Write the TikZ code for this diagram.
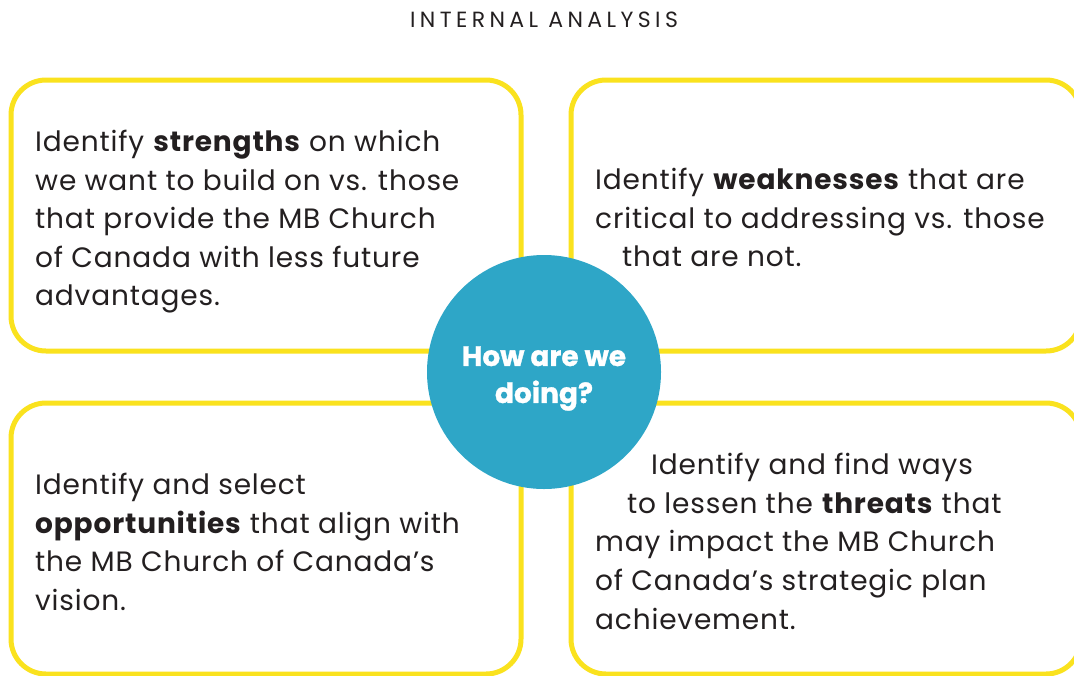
\documentclass[tikz,border=0pt]{standalone}
\usepackage{fontspec}
\setmainfont{Poppins}
\definecolor{boxyellow}{RGB}{250,226,30}
\definecolor{hubteal}{RGB}{46,166,199}
\definecolor{ink}{RGB}{35,31,32}
\tikzset{
  quad/.style={draw=boxyellow, line width=5pt, rounded corners=35pt, fill=white,
    minimum width=510pt, minimum height=271pt, anchor=north west, inner sep=0pt, outer sep=0pt},
  txt/.style={text=ink, align=left, anchor=north west, inner sep=0pt,
    font=\fontsize{28}{38.6}\selectfont\addfontfeatures{LetterSpace=3}},
  hub/.style={circle, fill=hubteal, minimum size=234pt, inner sep=0pt},
  hubtxt/.style={text=white, inner sep=0pt, align=center,
    font=\fontsize{28}{37}\selectfont\bfseries\addfontfeatures{FakeBold=1}},
  heading/.style={text=ink, inner sep=0pt, font=\fontsize{22}{24}\selectfont\addfontfeatures{LetterSpace=20}}
}
\begin{document}
\begin{tikzpicture}[x=1pt,y=-1pt]
\useasboundingbox (0,0) rectangle (1074,675);
\clip (0,0) rectangle (1074,675);
\fill[white] (0,0) rectangle (1074,675);
\node[heading] (title) at (544,20) {INTERNAL ANALYSIS};
\node[quad] (sbox) at (11,80) {};
\node[quad] (wbox) at (571,80) {};
\node[quad] (obox) at (11,403) {};
\node[quad] (tbox) at (571,403) {};
\node[hub] (hub) at (544,372) {};
\node[hubtxt] (hubtext) at ([yshift=-6.5pt]hub.center) {How are we\\doing?};
\node[txt] (stext) at (35,130) {Identify \textbf{strengths} on which\\we want to build on vs. those\\that provide the MB Church\\of Canada with less future\\advantages.};
\node[txt] (wtext) at (595,168) {Identify \textbf{weaknesses} that are\\critical to addressing vs. those\\\hspace*{27pt}that are not.};
\node[txt] (otext) at (35,473) {Identify and select\\\textbf{opportunities} that align with\\the MB Church of Canada’s\\vision.};
\node[txt] (ttext) at (595,453) {\hspace*{56pt}Identify and find ways\\\hspace*{32pt}to lessen the \textbf{threats} that\\may impact the MB Church\\of Canada’s strategic plan\\achievement.};
\end{tikzpicture}
\end{document}
